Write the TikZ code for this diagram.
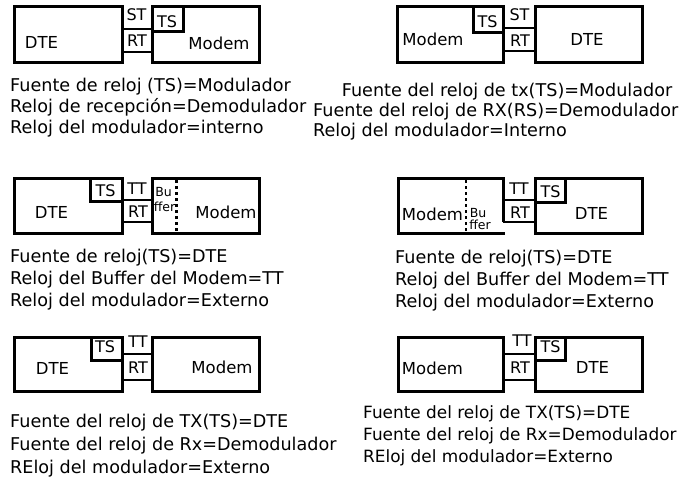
\documentclass[tikz,border=0pt]{standalone}
\usepackage{fontspec}
\setmainfont{DejaVu Sans}
\begin{document}
\begin{tikzpicture}[x=1pt,y=-1pt,
  boxln/.style={line width=3pt, line join=miter},
  thinln/.style={line width=2pt},
  dotln/.style={line width=2.6pt, dash pattern=on 2.6pt off 3.4pt},
  lbl/.style={inner sep=0pt, font=\fontsize{16}{18}\selectfont},
  big/.style={inner sep=0pt, font=\fontsize{16.5}{18}\selectfont},
  sm/.style={inner sep=0pt, font=\fontsize{12.5}{13}\selectfont},
  txt/.style={inner sep=0pt, anchor=base west, font=\fontsize{17.6}{20}\selectfont},
  txtn/.style={txt, font=\fontsize{16.9}{20}\selectfont}]
\useasboundingbox (0,0) rectangle (685,484);

% ---------- Panel 1 ----------
\draw[boxln] (14,7) rectangle (122,63);
\draw[boxln] (152,7) rectangle (259,63);
\draw[boxln] (152,32) -- (183,32) -- (183,7);
\draw[thinln] (122,29) -- (152,29) (122,52) -- (152,52);
\node[big] (p1dte) at (41.5,42.5) {DTE};
\node[big] (p1modem) at (219,43) {Modem};
\node[lbl] (p1st) at (136.5,15) {ST};
\node[lbl] (p1rt) at (137,40.5) {RT};
\node[lbl] (p1ts) at (167,21.5) {TS};
\node[txt] (p1a) at (10,92) {Fuente de reloj (TS)=Modulador};
\node[txt] (p1b) at (10,112.5) {Reloj de recepción=Demodulador};
\node[txt] (p1c) at (10,133) {Reloj del modulador=interno};

% ---------- Panel 2 ----------
\draw[boxln] (397,7) rectangle (503,63);
\draw[boxln] (535,7) rectangle (642,63);
\draw[boxln] (473,7) -- (473,33) -- (503,33);
\draw[thinln] (503,28) -- (535,28) (503,51) -- (535,51);
\node[big] (p2modem) at (433,39) {Modem};
\node[big] (p2dte) at (587,39) {DTE};
\node[lbl] (p2ts) at (487.5,21.5) {TS};
\node[lbl] (p2st) at (519.5,15) {ST};
\node[lbl] (p2rt) at (520,40.5) {RT};
\node[txt] (p2a) at (341.7,96.5) {Fuente del reloj de tx(TS)=Modulador};
\node[txt] (p2b) at (313,116.5) {Fuente del reloj de RX(RS)=Demodulador};
\node[txt] (p2c) at (313,136.5) {Reloj del modulador=Interno};

% ---------- Panel 3 ----------
\draw[boxln] (14,178) rectangle (122,233);
\draw[boxln] (152,178) rectangle (259,233);
\draw[boxln] (90.5,178) -- (90.5,201.5) -- (122,201.5);
\draw[thinln] (122,199.5) -- (152,199.5) (122,222) -- (152,222);
\draw[dotln] (176.7,180) -- (176.7,233);
\node[big] (p3dte) at (51.5,212.5) {DTE};
\node[big] (p3modem) at (226,212.5) {Modem};
\node[lbl] (p3ts) at (105.5,190.5) {TS};
\node[lbl] (p3tt) at (137,188.5) {TT};
\node[lbl] (p3rt) at (138,211.5) {RT};
\node[sm] (p3bu) at (163.5,192) {Bu};
\node[sm] (p3ffer) at (164.5,207) {ffer};
\node[txt] (p3a) at (10,262) {Fuente de reloj(TS)=DTE};
\node[txt] (p3b) at (10,284) {Reloj del Buffer del Modem=TT};
\node[txt] (p3c) at (10,306) {Reloj del modulador=Externo};

% ---------- Panel 4 ----------
\draw[boxln] (503,222) -- (503,178) -- (398,178) -- (398,233) -- (505,233);
\draw[boxln] (535,178) rectangle (642,233);
\draw[boxln] (565,178) -- (565,202.5) -- (535,202.5);
\draw[thinln] (503,200) -- (535,200) (503,222) -- (535,222);
\draw[dotln] (466,180) -- (466,233);
\node[big] (p4modem) at (432.5,214) {Modem};
\node[big] (p4dte) at (591.5,213.5) {DTE};
\node[lbl] (p4ts) at (550.5,191.5) {TS};
\node[lbl] (p4tt) at (519,188.5) {TT};
\node[lbl] (p4rt) at (520,212.5) {RT};
\node[sm] (p4bu) at (478,213) {Bu};
\node[sm] (p4ffer) at (480,225) {ffer};
\node[txt] (p4a) at (395,263.5) {Fuente de reloj(TS)=DTE};
\node[txt] (p4b) at (395,285.5) {Reloj del Buffer del Modem=TT};
\node[txt] (p4c) at (395,307.5) {Reloj del modulador=Externo};

% ---------- Panel 5 ----------
\draw[boxln] (14,337) rectangle (122,391);
\draw[boxln] (152,337) rectangle (259,391);
\draw[boxln] (91,337) -- (91,360) -- (122,360);
\draw[thinln] (122,354) -- (152,354) (122,380) -- (152,380);
\node[big] (p5dte) at (52.5,368.5) {DTE};
\node[big] (p5modem) at (222,367.5) {Modem};
\node[lbl] (p5ts) at (105,346.5) {TS};
\node[lbl] (p5tt) at (138,341.5) {TT};
\node[lbl] (p5rt) at (138,367.5) {RT};
\node[txt] (p5a) at (10,427) {Fuente del reloj de TX(TS)=DTE};
\node[txt] (p5b) at (10,450) {Fuente del reloj de Rx=Demodulador};
\node[txt] (p5c) at (10,473) {REloj del modulador=Externo};

% ---------- Panel 6 ----------
\draw[boxln] (398,337) rectangle (503,391);
\draw[boxln] (535,337) rectangle (642,391);
\draw[boxln] (565.5,337) -- (565.5,360) -- (535,360);
\draw[thinln] (503,354) -- (535,354) (503,380) -- (535,380);
\node[big] (p6modem) at (432.5,368) {Modem};
\node[big] (p6dte) at (592.5,367.5) {DTE};
\node[lbl] (p6ts) at (550.5,346.5) {TS};
\node[lbl] (p6tt) at (522,341) {TT};
\node[lbl] (p6rt) at (520,367.5) {RT};
\node[txtn] (p6a) at (363,418) {Fuente del reloj de TX(TS)=DTE};
\node[txtn] (p6b) at (363,440) {Fuente del reloj de Rx=Demodulador};
\node[txtn] (p6c) at (363,462) {REloj del modulador=Externo};
\end{tikzpicture}
\end{document}
